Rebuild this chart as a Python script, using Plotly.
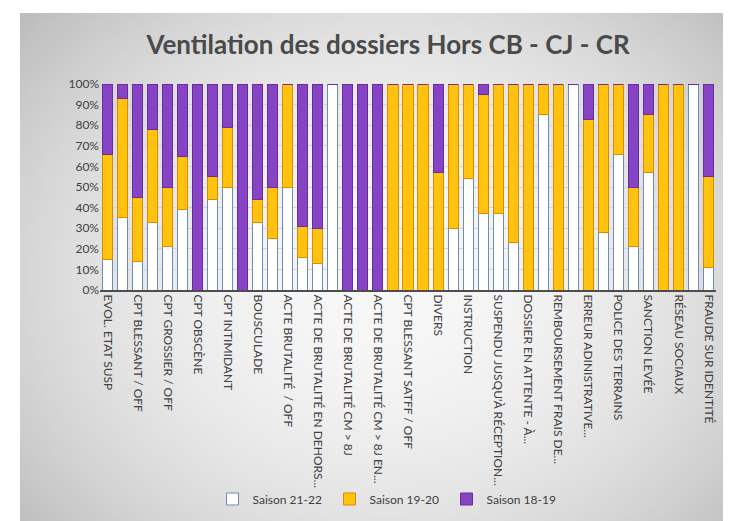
import base64, struct, zlib
import numpy as np
import plotly.graph_objects as go

# ---------------- data ----------------
tick_labels = [
    "EVOL. ETAT SUSP", "CPT BLESSANT / OFF", "CPT GROSSIER / OFF", "CPT OBSCÈNE",
    "CPT INTIMIDANT", "BOUSCULADE", "ACTE BRUTALITÉ  / OFF",
    "ACTE DE BRUTALITÉ EN DEHORS...", "ACTE DE BRUTALITÉ CM > 8J",
    "ACTE DE BRUTALITÉ CM > 8J EN...", "CPT BLESSANT SATFF / OFF", "DIVERS",
    "INSTRUCTION", "SUSPENDU JUSQU'À RÉCEPTION...", "DOSSIER EN ATTENTE - À...",
    "REMBOURSEMENT FRAIS DE...", "ERREUR ADINISTRATIVE...", "POLICE DES TERRAINS",
    "SANCTION LEVÉE", "RÉSEAU SOCIAUX", "FRAUDE SUR IDENTITÉ",
]
bar_index = list(range(41))
tick_index = bar_index[::2]

saison_21_22 = [15, 35, 14, 33, 21, 39, 0, 44, 50, 0, 33, 25, 50, 16, 13, 100, 0, 0, 0, 0, 0,
                0, 0, 30, 54, 37, 37, 23, 0, 85, 0, 100, 0, 28, 66, 21, 57, 0, 0, 100, 11]
saison_19_20 = [51, 58, 31, 45, 29, 26, 0, 11, 29, 0, 11, 25, 50, 15, 17, 0, 0, 0, 0, 100, 100,
                100, 57, 70, 46, 58, 63, 77, 100, 15, 100, 0, 83, 72, 34, 29, 28, 100, 100, 0, 44]
saison_18_19 = [34, 7, 55, 22, 50, 35, 100, 45, 21, 100, 56, 50, 0, 69, 70, 0, 100, 100, 100, 0, 0,
                0, 43, 0, 0, 5, 0, 0, 0, 0, 0, 0, 17, 0, 0, 50, 15, 0, 0, 0, 45]

# ---------------- background gradient image ----------------
W, H = 120, 86
yy, xx = np.mgrid[0:H, 0:W]
dx = (xx / (W - 1) - 0.5) / 0.5
dy = (yy / (H - 1) - 0.5) / 0.5
v = 248 - 34 * (dx ** 2 + 0.75 * dy ** 2)
v = np.clip(v, 185, 250).astype(np.uint8)
raw = b"".join(b"\x00" + bytes(np.repeat(row, 3)) for row in v)
def chunk(t, d):
    c = struct.pack(">I", len(d)) + t + d
    return c + struct.pack(">I", zlib.crc32(t + d) & 0xffffffff)
png = (b"\x89PNG\r\n\x1a\n" + chunk(b"IHDR", struct.pack(">IIBBBBB", W, H, 8, 2, 0, 0, 0))
       + chunk(b"IDAT", zlib.compress(raw)) + chunk(b"IEND", b""))
bg_uri = "data:image/png;base64," + base64.b64encode(png).decode()

# ---------------- figure ----------------
L, R, T, B = 92, 23, 76, 239
PW = 731 - L - R
PH = 521 - T - B
def px(x):
    return (x - L) / PW
def py(y):
    return (521 - B - y) / PH

fig = go.Figure()
fig.add_trace(go.Bar(x=bar_index, y=saison_21_22, name="Saison 21-22",
                     marker=dict(color="#ffffff", line=dict(color="#6f8bb8", width=1))))
fig.add_trace(go.Bar(x=bar_index, y=saison_19_20, name="Saison 19-20",
                     marker=dict(color="#ffc20e", line=dict(color="#d98c00", width=1))))
fig.add_trace(go.Bar(x=bar_index, y=saison_18_19, name="Saison 18-19",
                     marker=dict(color="#8644c4", line=dict(color="#6a2c9e", width=1))))

fig.update_layout(
    width=731, height=521,
    barmode="stack", bargap=0.33,
    margin=dict(l=L, r=R, t=T, b=B, pad=0),
    paper_bgcolor="#ffffff", plot_bgcolor="rgba(0,0,0,0)",
    font=dict(family="Lato, 'Open Sans', sans-serif", color="#404040", size=12),
    title=dict(text="<b>Ventilation des dossiers Hors CB - CJ - CR</b>",
               x=0.52, xanchor="center", y=1 - 37 / 521, yanchor="middle",
               font=dict(size=26, color="#4a4a4a", family="Lato, 'Open Sans', sans-serif")),
    showlegend=True,
    legend=dict(orientation="h", x=px(380), xanchor="center", y=py(491), yanchor="middle",
                font=dict(size=12, color="#404040"), bgcolor="rgba(0,0,0,0)",
                traceorder="normal", itemwidth=30, entrywidth=72, entrywidthmode="pixels"),
    images=[dict(source=bg_uri, xref="paper", yref="paper",
                 x=px(12), y=py(5), sizex=px(745) - px(12), sizey=py(5) - py(535),
                 xanchor="left", yanchor="top", sizing="stretch", layer="below")],
)
fig.update_xaxes(range=[-0.5, 40.5], tickmode="array", tickvals=tick_index, ticktext=tick_labels,
                 tickangle=90, showgrid=False, showline=True, linecolor="#4d4d4d", linewidth=2,
                 ticks="", tickfont=dict(size=12, color="#404040"), zeroline=False)
fig.update_yaxes(range=[0, 100], dtick=10, ticksuffix="%", showgrid=True, gridcolor="#d4d4d4",
                 gridwidth=1, zeroline=False, showline=False, ticks="",
                 tickfont=dict(size=12, color="#404040"))

fig.write_html("out.html")
